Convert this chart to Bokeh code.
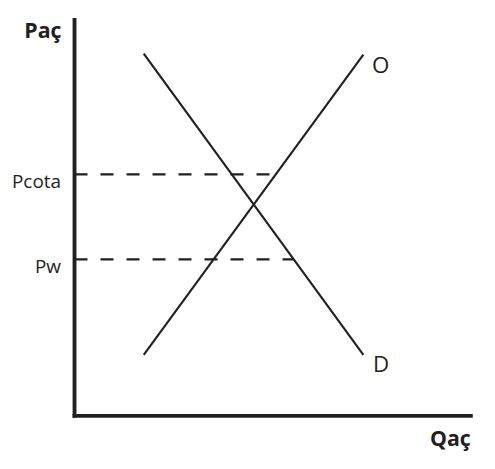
import numpy as np
from bokeh.plotting import figure
from bokeh.models import Range1d
from bokeh.core.properties import value
from bokeh.embed import file_html
from bokeh.resources import INLINE

# ---- data (arbitrary quantity / price units) ----
qty_ends = [71.5, 298.5]          # start / end quantity of both curves
demand_p = [375, 63]              # D: price at qty_ends
supply_p = [63, 374]              # O: price at qty_ends
price_levels = [250, 162]         # Pcota, Pw
price_labels = ["Pcota", "Pw"]
price_hits = ["supply", "demand"] # curve each dashed line reaches
axis_top_p = 412
axis_right_q = 411.5
curve_labels = ["O", "D"]
axis_titles = ["Paç", "Qaç"]

INK = "#231f20"
FONT = value("Open Sans")
S = 479 / 495.0  # canvas scale

p = figure(width=479, height=453,
           x_range=Range1d(-76.5, 418.5), y_range=Range1d(-39, 430),
           output_backend="svg", toolbar_location=None, min_border=0,
           x_axis_location=None, y_axis_location=None)
p.grid.visible = False
p.outline_line_color = None
p.background_fill_color = "white"

# axes drawn as thick lines
p.line([0, 0], [-2, axis_top_p], line_width=4 * S, color=INK, line_cap="butt")
p.line([-2, axis_right_q], [0, 0], line_width=4 * S, color=INK, line_cap="butt")

# curves
p.line(qty_ends, demand_p, line_width=2.2 * S, color=INK)
p.line(qty_ends, supply_p, line_width=2.2 * S, color=INK)

# dashed price levels up to the curve they meet
for lvl, hit in zip(price_levels, price_hits):
    if hit == "supply":
        q_end = np.interp(lvl, supply_p, qty_ends)
    else:
        q_end = np.interp(lvl, demand_p[::-1], qty_ends[::-1])
    p.line([0, q_end], [lvl, lvl], line_width=2.2 * S, color=INK, line_dash="13 13")

# price labels
p.text(x=[0, 0], y=price_levels, text=price_labels, text_align="right",
       text_baseline="alphabetic", x_offset=-14 * S, y_offset=7 * S,
       text_font=FONT, text_font_size=f"{19.5 * S:.1f}px", text_color=INK)

# curve labels
p.text(x=[qty_ends[1]], y=[supply_p[1]], text=[curve_labels[0]], text_align="left",
       text_baseline="alphabetic", x_offset=9 * S, y_offset=10 * S,
       text_font=FONT, text_font_size=f"{23 * S:.1f}px", text_color=INK)
p.text(x=[qty_ends[1]], y=[demand_p[1]], text=[curve_labels[1]], text_align="left",
       text_baseline="alphabetic", x_offset=10 * S, y_offset=9 * S,
       text_font=FONT, text_font_size=f"{23 * S:.1f}px", text_color=INK)

# axis titles
p.text(x=[0], y=[axis_top_p], text=[axis_titles[0]], text_align="right",
       text_baseline="alphabetic", x_offset=-13.5 * S, y_offset=12 * S,
       text_font=FONT, text_font_size=f"{22 * S:.1f}px", text_font_style="bold", text_color=INK)
p.text(x=[axis_right_q], y=[0], text=[axis_titles[1]], text_align="right",
       text_baseline="alphabetic", x_offset=-2 * S, y_offset=22 * S,
       text_font=FONT, text_font_size=f"{22 * S:.1f}px", text_font_style="bold", text_color=INK)

open("out.html", "w").write(file_html(p, INLINE))
